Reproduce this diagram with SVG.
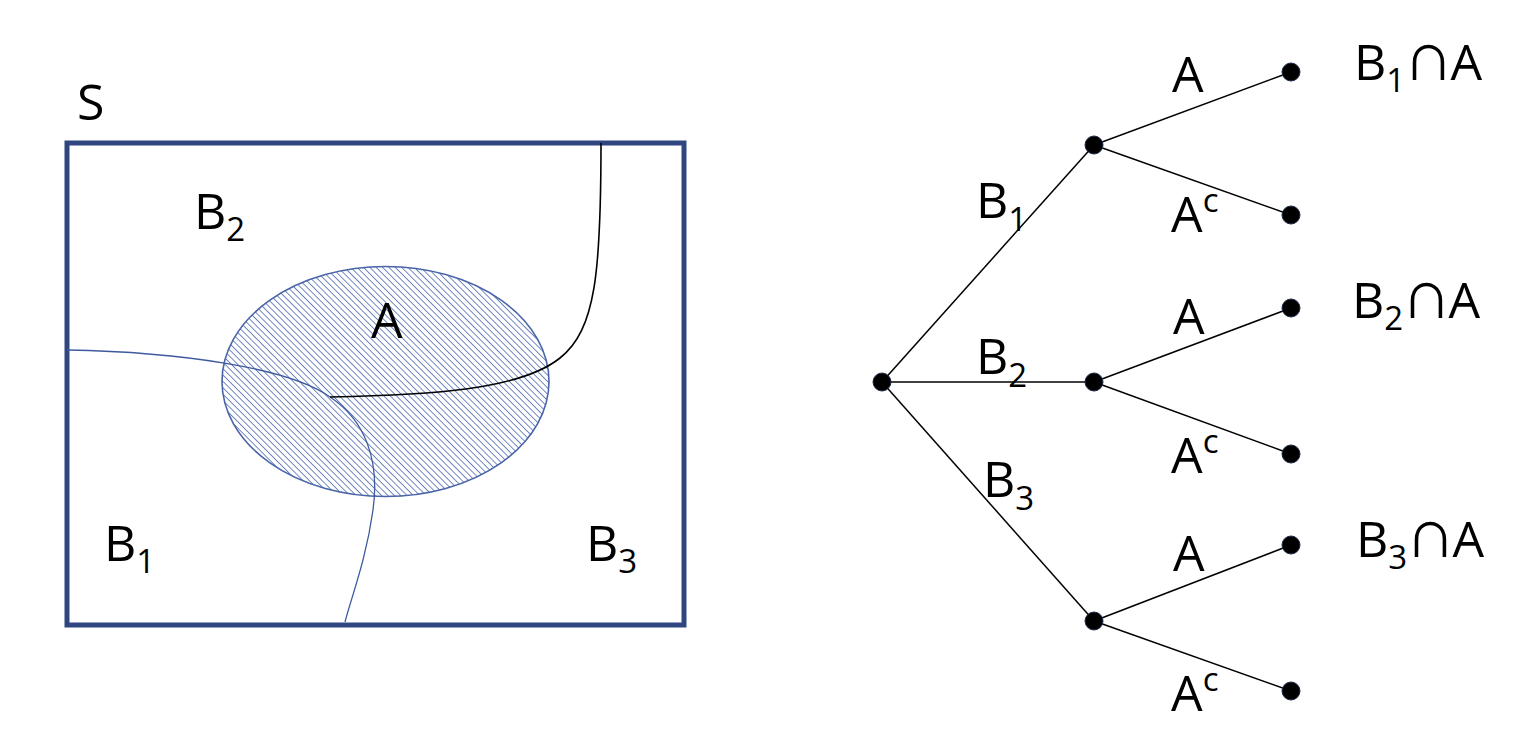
<svg xmlns="http://www.w3.org/2000/svg" width="1516" height="740" viewBox="0 0 1516 740">
<style>
  text { font-family: "Open Sans", "Noto Sans", "Liberation Sans", sans-serif; fill: #000; }
  .lbl { font-size: 50px; }
  .sub { font-size: 33px; }
  .cap { font-size: 70px; }
  .edge { stroke: #000; stroke-width: 1.5; fill: none; }
  .dot { fill: #000; stroke: #1f2a4a; stroke-width: 1; }
  .part { stroke: #3d5a9e; stroke-width: 1.3; fill: none; }
</style>
<defs>
  <pattern id="hatch" patternUnits="userSpaceOnUse" width="4.5" height="4.5" patternTransform="rotate(-45)">
    <rect width="4.5" height="4.5" fill="#ffffff"/>
    <line x1="0" y1="0" x2="0" y2="4.5" stroke="#4f6cb5" stroke-width="1.6"/>
  </pattern>
</defs>
<rect width="1516" height="740" fill="#ffffff"/>

<g id="venn">
  <text class="lbl" x="77" y="120">S</text>
  <rect id="sample-space" x="67" y="143" width="617" height="482" fill="none" stroke="#2f4680" stroke-width="5"/>
  <ellipse id="event-A" cx="385.5" cy="381.5" rx="163.5" ry="115" fill="url(#hatch)" stroke="#4a64a8" stroke-width="1.6"/>
  <path class="part" d="M67,350 C180,352 290,368 330,397"/>
  <path class="part" d="M330,397 C365,420 380,460 373,510 C366,560 352,595 345,622"/>
  <path d="M601,143 C601,270 596,330 560,358 C520,390 430,395 330,397" fill="none" stroke="#000" stroke-width="1.6"/>
  <text class="lbl" x="371" y="338">A</text>
  <text class="lbl" x="194" y="229">B<tspan class="sub" dy="12">2</tspan></text>
  <text class="lbl" x="104" y="561">B<tspan class="sub" dy="12">1</tspan></text>
  <text class="lbl" x="586" y="561">B<tspan class="sub" dy="12">3</tspan></text>
</g>

<g id="connectors">
  <line class="edge" x1="882" y1="382" x2="1094" y2="145"/>
  <line class="edge" x1="882" y1="382" x2="1094" y2="382"/>
  <line class="edge" x1="882" y1="382" x2="1094" y2="621"/>
  <line class="edge" x1="1094" y1="145" x2="1291" y2="72"/>
  <line class="edge" x1="1094" y1="145" x2="1291" y2="215"/>
  <line class="edge" x1="1094" y1="382" x2="1291" y2="308"/>
  <line class="edge" x1="1094" y1="382" x2="1291" y2="454"/>
  <line class="edge" x1="1094" y1="621" x2="1291" y2="545"/>
  <line class="edge" x1="1094" y1="621" x2="1291" y2="691"/>
</g>

<g id="edge-labels">
  <text class="lbl" x="976" y="218">B<tspan class="sub" dy="13">1</tspan></text>
  <text class="lbl" x="976" y="374">B<tspan class="sub" dy="13">2</tspan></text>
  <text class="lbl" x="983" y="497">B<tspan class="sub" dy="13">3</tspan></text>
  <text class="lbl" x="1172" y="92">A</text>
  <text class="lbl" x="1171" y="232">A<tspan class="sub" dy="-20">c</tspan></text>
  <text class="lbl" x="1173" y="334">A</text>
  <text class="lbl" x="1171" y="473">A<tspan class="sub" dy="-20">c</tspan></text>
  <text class="lbl" x="1173" y="571">A</text>
  <text class="lbl" x="1171" y="711">A<tspan class="sub" dy="-20">c</tspan></text>
</g>

<g id="node-root"><circle class="dot" cx="882" cy="382" r="9"/></g>
<g id="node-B1"><circle class="dot" cx="1094" cy="145" r="9"/></g>
<g id="node-B2"><circle class="dot" cx="1094" cy="382" r="9"/></g>
<g id="node-B3"><circle class="dot" cx="1094" cy="621" r="9"/></g>
<g id="node-B1A"><circle class="dot" cx="1291" cy="72" r="9"/><text class="lbl" x="1354" y="80">B<tspan class="sub" dy="12">1</tspan><tspan class="cap" dy="-12" dx="-2">∩</tspan><tspan dx="-3">A</tspan></text></g>
<g id="node-B1Ac"><circle class="dot" cx="1291" cy="215" r="9"/></g>
<g id="node-B2A"><circle class="dot" cx="1291" cy="308" r="9"/><text class="lbl" x="1352" y="318">B<tspan class="sub" dy="12">2</tspan><tspan class="cap" dy="-12" dx="-2">∩</tspan><tspan dx="-3">A</tspan></text></g>
<g id="node-B2Ac"><circle class="dot" cx="1291" cy="454" r="9"/></g>
<g id="node-B3A"><circle class="dot" cx="1291" cy="545" r="9"/><text class="lbl" x="1356" y="557">B<tspan class="sub" dy="12">3</tspan><tspan class="cap" dy="-12" dx="-2">∩</tspan><tspan dx="-3">A</tspan></text></g>
<g id="node-B3Ac"><circle class="dot" cx="1291" cy="691" r="9"/></g>
</svg>
